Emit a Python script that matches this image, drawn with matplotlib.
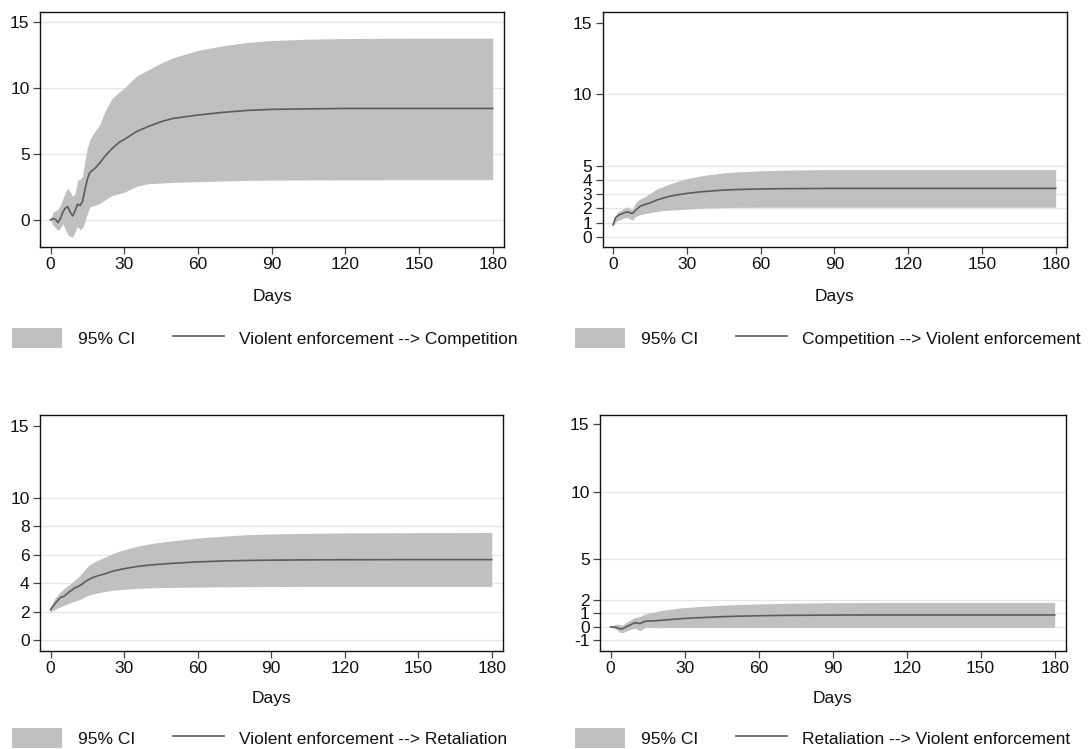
import matplotlib
matplotlib.use("Agg")
import matplotlib.pyplot as plt
from matplotlib.patches import Patch
from matplotlib.lines import Line2D

plt.rcParams['font.family'] = ['Liberation Sans', 'DejaVu Sans']
plt.rcParams['axes.unicode_minus'] = False

# ---------------- data ----------------
days = [0, 1, 2, 3, 4, 5, 6, 7, 8, 9, 10, 11, 12, 13, 14, 15, 16, 18, 20, 22,
        25, 28, 30, 35, 40, 45, 50, 60, 70, 80, 90, 105, 120, 150, 180]

# Violent enforcement --> Competition
ve_comp_irf = [0.0, 0.1, 0.05, -0.2, 0.1, 0.6, 0.9, 1.0, 0.6, 0.3, 0.7, 1.2, 1.1, 1.4, 2.3, 3.1, 3.6, 3.9, 4.3, 4.8,
               5.4, 5.9, 6.1, 6.7, 7.1, 7.45, 7.7, 7.95, 8.15, 8.3, 8.38, 8.42, 8.45, 8.45, 8.45]
ve_comp_hi = [0.0, 0.6, 0.7, 0.8, 1.1, 1.6, 2.1, 2.4, 2.1, 1.8, 2.0, 3.0, 3.1, 3.3, 4.5, 5.5, 6.1, 6.7, 7.2, 8.2,
              9.2, 9.7, 10.0, 10.9, 11.4, 11.9, 12.3, 12.85, 13.2, 13.45, 13.6, 13.7, 13.75, 13.78, 13.78]
ve_comp_lo = [0.0, -0.4, -0.6, -0.8, -0.6, -0.3, -0.7, -1.1, -1.25, -1.3, -0.9, -0.5, -0.75, -0.6, -0.1, 0.5, 1.0, 1.1, 1.25, 1.5,
              1.85, 2.0, 2.1, 2.55, 2.75, 2.8, 2.85, 2.9, 2.95, 3.0, 3.02, 3.03, 3.04, 3.05, 3.05]

# Competition --> Violent enforcement
comp_ve_irf = [0.85, 1.35, 1.5, 1.58, 1.65, 1.72, 1.75, 1.68, 1.65, 1.85, 2.0, 2.15, 2.22, 2.28, 2.33, 2.38, 2.45, 2.6, 2.7, 2.8,
               2.92, 3.0, 3.05, 3.15, 3.22, 3.28, 3.32, 3.36, 3.38, 3.39, 3.4, 3.4, 3.4, 3.4, 3.4]
comp_ve_hi = [0.9, 1.5, 1.75, 1.85, 1.95, 2.05, 2.1, 1.95, 1.95, 2.35, 2.55, 2.65, 2.75, 2.82, 2.95, 3.05, 3.15, 3.38, 3.5, 3.65,
              3.82, 4.0, 4.08, 4.25, 4.38, 4.48, 4.55, 4.63, 4.68, 4.7, 4.72, 4.72, 4.72, 4.72, 4.72]
comp_ve_lo = [0.8, 1.05, 1.15, 1.22, 1.3, 1.35, 1.37, 1.25, 1.18, 1.4, 1.5, 1.55, 1.6, 1.63, 1.67, 1.7, 1.73, 1.8, 1.84, 1.87,
              1.9, 1.93, 1.95, 2.0, 2.04, 2.06, 2.07, 2.08, 2.08, 2.08, 2.08, 2.08, 2.08, 2.08, 2.08]

# Violent enforcement --> Retaliation
ve_ret_irf = [2.15, 2.4, 2.6, 2.8, 3.0, 3.05, 3.15, 3.3, 3.45, 3.55, 3.7, 3.75, 3.85, 3.95, 4.1, 4.2, 4.3, 4.45, 4.56, 4.65,
              4.83, 4.95, 5.02, 5.17, 5.27, 5.34, 5.4, 5.5, 5.56, 5.6, 5.62, 5.64, 5.65, 5.66, 5.66]
ve_ret_hi = [2.2, 2.7, 3.0, 3.2, 3.4, 3.55, 3.7, 3.82, 3.95, 4.1, 4.25, 4.4, 4.56, 4.75, 4.95, 5.15, 5.3, 5.5, 5.67, 5.82,
             6.05, 6.25, 6.35, 6.58, 6.75, 6.88, 6.98, 7.17, 7.3, 7.4, 7.46, 7.5, 7.53, 7.55, 7.56]
ve_ret_lo = [2.0, 2.1, 2.18, 2.28, 2.35, 2.42, 2.5, 2.56, 2.62, 2.7, 2.75, 2.8, 2.87, 2.95, 3.05, 3.12, 3.18, 3.26, 3.35, 3.42,
             3.5, 3.55, 3.58, 3.64, 3.67, 3.7, 3.71, 3.73, 3.75, 3.76, 3.77, 3.78, 3.78, 3.78, 3.78]

# Retaliation --> Violent enforcement
ret_ve_irf = [0.0, 0.0, -0.03, -0.08, -0.15, -0.12, -0.02, 0.08, 0.15, 0.25, 0.32, 0.28, 0.25, 0.35, 0.42, 0.44, 0.45, 0.46, 0.48, 0.52,
              0.56, 0.6, 0.63, 0.68, 0.72, 0.76, 0.79, 0.83, 0.86, 0.87, 0.88, 0.89, 0.89, 0.89, 0.89]
ret_ve_hi = [0.0, 0.1, 0.2, 0.2, 0.15, 0.15, 0.3, 0.42, 0.52, 0.62, 0.72, 0.75, 0.77, 0.88, 0.95, 1.0, 1.05, 1.12, 1.2, 1.26,
             1.33, 1.4, 1.43, 1.5, 1.56, 1.61, 1.65, 1.71, 1.75, 1.78, 1.8, 1.81, 1.82, 1.82, 1.82]
ret_ve_lo = [0.0, -0.08, -0.15, -0.28, -0.4, -0.42, -0.33, -0.25, -0.18, -0.12, -0.1, -0.2, -0.27, -0.15, -0.05, -0.02, -0.03, -0.05, -0.05, -0.04,
             -0.03, -0.03, -0.03, -0.03, -0.03, -0.03, -0.03, -0.03, -0.03, -0.03, -0.03, -0.03, -0.03, -0.03, -0.03]

x_ticks = [0, 30, 60, 90, 120, 150, 180]
labels = ["Violent enforcement --> Competition", "Competition --> Violent enforcement",
          "Violent enforcement --> Retaliation", "Retaliation --> Violent enforcement"]
yticks_list = [[0, 5, 10, 15], [0, 1, 2, 3, 4, 5, 10, 15], [0, 2, 4, 6, 8, 10, 15], [-1, 0, 1, 2, 5, 10, 15]]
ylims = [(-2.05, 15.76), (-0.7, 15.74), (-0.75, 15.8), (-1.78, 15.7)]
grid_top = [True, False, False, False]

series = [(ve_comp_irf, ve_comp_lo, ve_comp_hi), (comp_ve_irf, comp_ve_lo, comp_ve_hi),
          (ve_ret_irf, ve_ret_lo, ve_ret_hi), (ret_ve_irf, ret_ve_lo, ret_ve_hi)]

# ---------------- layout (pixels) ----------------
W, H = 1091, 749
fig = plt.figure(figsize=(W / 100, H / 100), dpi=100)
boxes = [(40, 504, 12, 247), (602.5, 1067, 12, 247), (40, 503, 415, 651), (600, 1066, 415, 651)]
legend_pos = [(12, 338), (575, 338), (12, 738), (575, 738)]
days_y = [296, 296, 698, 698]

BAND = '#c0c0c0'
LINE = '#5c5c5c'
FS = 12.5

for i in range(4):
    l, r, t, b = boxes[i]
    ax = fig.add_axes([l / W, 1 - b / H, (r - l) / W, (b - t) / H])
    irf, lo, hi = series[i]
    ax.fill_between(days, lo, hi, color=BAND, linewidth=0, zorder=2)
    ax.plot(days, irf, color=LINE, linewidth=1.2, zorder=3)
    ax.set_xlim(-4.3, 184.6)
    ax.set_ylim(*ylims[i])
    ax.set_xticks(x_ticks)
    ax.set_yticks(yticks_list[i])
    for yv in yticks_list[i]:
        if yv == 15 and not grid_top[i]:
            continue
        ax.axhline(yv, color='#e6e6e6', linewidth=1.0, zorder=1)
    ax.tick_params(direction='out', length=5, width=0.9, color='#444444',
                   labelsize=FS, pad=2.5, labelcolor='#111111')
    for sp in ax.spines.values():
        sp.set_color('#111111')
        sp.set_linewidth(1.0)
    cx = (l + r) / 2
    fig.text(cx / W, 1 - days_y[i] / H, "Days", ha='center', va='center', fontsize=FS, color='#111111')

    handles = [Patch(facecolor=BAND, edgecolor='none'), Line2D([0], [0], color=LINE, linewidth=1.2)]
    lx, ly = legend_pos[i]
    fig.legend(handles, ["95% CI", labels[i]], loc='center left',
               bbox_to_anchor=(lx / W, 1 - ly / H), ncol=2, frameon=False,
               fontsize=FS, handlelength=2.9, handleheight=1.4, handletextpad=0.9,
               columnspacing=2.2, borderpad=0, borderaxespad=0, labelcolor='#111111')

fig.savefig("out.png", dpi=100)
